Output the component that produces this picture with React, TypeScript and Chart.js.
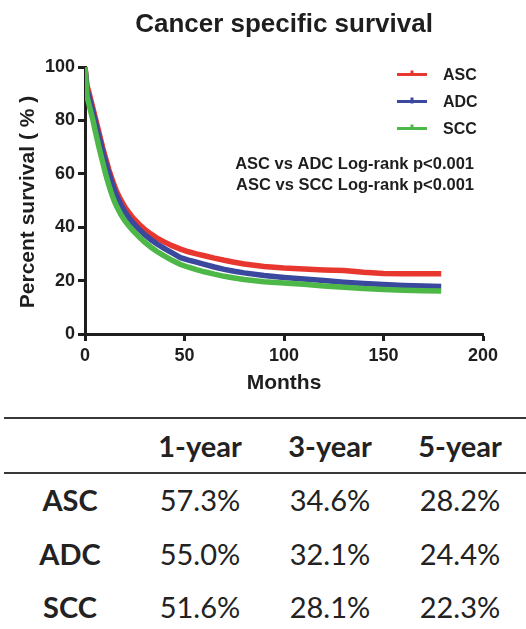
import React, { useEffect, useRef } from "react";
import { Chart, registerables } from "chart.js";

Chart.register(...registerables);

// ---- Data ----
const seriesLabels = ["ASC", "ADC", "SCC"];
const months = [0, 1, 2, 3, 4, 5, 6, 7, 8, 9, 10, 11, 12, 13, 14, 15, 16, 18, 20, 22, 24, 27, 30, 33, 36, 40, 44, 48, 52, 56, 60, 65, 70, 75, 80, 90, 100, 110, 120, 130, 140, 150, 160, 170, 179];
const ascSurvival = [100, 93, 90.5, 87.5, 84.5, 81.5, 78.5, 75.5, 72.5, 69.5, 66.8, 64.2, 61.5, 59.3, 57.1, 55.1, 53.2, 50.2, 47.6, 45.5, 43.6, 41.2, 39.2, 37.5, 36, 34.4, 33, 31.8, 30.8, 30, 29.3, 28.4, 27.6, 26.9, 26.2, 25.3, 24.7, 24.3, 24, 23.8, 23.1, 22.7, 22.6, 22.6, 22.6];
const adcSurvival = [100, 91.5, 89, 86, 83, 80, 77, 74, 71, 68, 65.2, 62.6, 60.2, 57.8, 55.6, 53.5, 51.6, 48.4, 45.8, 43.6, 41.7, 39.3, 37.2, 35.4, 33.8, 32, 30.3, 28.6, 27.7, 26.9, 26.1, 25.1, 24.2, 23.5, 22.9, 21.9, 21.2, 20.6, 20, 19.4, 18.9, 18.5, 18.2, 18, 17.8];
const sccSurvival = [100, 89, 86, 83, 80, 76.5, 73.3, 70, 67, 64, 61, 58.2, 55.7, 53.3, 51.2, 49.3, 47.6, 44.8, 42.4, 40.5, 38.8, 36.5, 34.4, 32.6, 31, 29.2, 27.5, 26, 25, 24.1, 23.3, 22.4, 21.6, 21, 20.4, 19.6, 19.1, 18.6, 18, 17.5, 17, 16.7, 16.4, 16.2, 16.1];
const seriesColors = ["#e8372f", "#3a489e", "#4db748"];

const chartTitle = "Cancer specific survival";
const xAxisTitle = "Months";
const yAxisTitle = "Percent survival ( % )";
const annotations = ["ASC vs ADC Log-rank p<0.001", "ASC vs SCC Log-rank p<0.001"];

const tableColumns = ["1-year", "3-year", "5-year"];
const tableRows = ["ASC", "ADC", "SCC"];
const tableValues = [
  ["57.3%", "34.6%", "28.2%"],
  ["55.0%", "32.1%", "24.4%"],
  ["51.6%", "28.1%", "22.3%"],
];

const TEXT = "#1e1e1e";
const FONT = '"Liberation Sans", Arial, sans-serif';

const overlayPlugin = {
  id: "overlay",
  afterDraw(chart: any) {
    const ctx = chart.ctx;
    const ca = chart.chartArea;
    ctx.save();
    ctx.fillStyle = TEXT;
    ctx.textBaseline = "middle";

    // title
    ctx.font = `bold 26px ${FONT}`;
    ctx.textAlign = "center";
    ctx.fillText(chartTitle, (ca.left + ca.right) / 2, 25);

    // x title
    ctx.font = `bold 21px ${FONT}`;
    ctx.fillText(xAxisTitle, (ca.left + ca.right) / 2, 383);

    // y title
    ctx.save();
    ctx.translate(28, 202);
    ctx.rotate(-Math.PI / 2);
    ctx.font = `bold 21px ${FONT}`;
    ctx.fillText(yAxisTitle, 0, 0);
    ctx.restore();

    // legend
    ctx.font = `bold 16px ${FONT}`;
    ctx.textAlign = "left";
    seriesLabels.forEach((lab, i) => {
      const y = 74.5 + i * 27;
      ctx.strokeStyle = seriesColors[i];
      ctx.lineWidth = 3;
      ctx.beginPath();
      ctx.moveTo(397, y);
      ctx.lineTo(427, y);
      ctx.moveTo(412, y - 4);
      ctx.lineTo(412, y + (i === 1 ? 2 : 0));
      ctx.stroke();
      ctx.fillStyle = TEXT;
      ctx.fillText(lab, 443, y + 1);
    });

    // annotations
    ctx.font = `bold 16.5px ${FONT}`;
    ctx.textAlign = "right";
    annotations.forEach((t, i) => {
      ctx.fillText(t, 474, 164 + i * 21);
    });
    ctx.restore();
  },
};

export default function App() {
  const canvasRef = useRef<HTMLCanvasElement | null>(null);

  useEffect(() => {
    if (!canvasRef.current) return;
    const series = [ascSurvival, adcSurvival, sccSurvival];
    const chart = new Chart(canvasRef.current, {
      type: "line",
      data: {
        datasets: series.map((vals, i) => ({
          label: seriesLabels[i],
          data: months.map((m, j) => ({ x: m, y: vals[j] })),
          borderColor: seriesColors[i],
          backgroundColor: seriesColors[i],
          borderWidth: 5.5,
          pointRadius: 0,
          tension: 0,
          fill: false,
          order: 2 - i,
        })),
      },
      options: {
        animation: false,
        responsive: false,
        devicePixelRatio: 1,
        layout: { padding: { top: 67, right: 43, left: 0, bottom: 0 } },
        plugins: {
          legend: { display: false },
          tooltip: { enabled: false },
          title: { display: false },
        },
        scales: {
          x: {
            type: "linear",
            min: 0,
            max: 200,
            ticks: {
              stepSize: 50,
              color: TEXT,
              padding: 4,
              font: { family: FONT, size: 18, weight: "bold" },
            },
            grid: {
              display: true,
              drawOnChartArea: false,
              drawTicks: true,
              tickLength: 7,
              tickWidth: 3,
              tickColor: TEXT,
            },
            border: { display: true, color: TEXT, width: 3 },
            afterFit: (s: any) => {
              s.height = 66;
            },
          },
          y: {
            type: "linear",
            min: 0,
            max: 100,
            ticks: {
              stepSize: 20,
              color: TEXT,
              padding: 3,
              font: { family: FONT, size: 18, weight: "bold" },
            },
            grid: {
              display: true,
              drawOnChartArea: false,
              drawTicks: true,
              tickLength: 7,
              tickWidth: 3,
              tickColor: TEXT,
            },
            border: { display: true, color: TEXT, width: 3 },
            afterFit: (s: any) => {
              s.width = 85;
            },
          },
        },
      },
      plugins: [overlayPlugin],
    } as any);
    return () => chart.destroy();
  }, []);

  const colX = [200, 330, 460];
  const rowY = [500, 554, 607];
  const cell = (text: string, x: number, y: number, bold: boolean, key: string) => (
    <div
      key={key}
      style={{
        position: "absolute",
        left: x - 80,
        top: y - 15,
        width: 160,
        height: 30,
        lineHeight: "30px",
        textAlign: "center",
        fontFamily: "Lato, sans-serif",
        fontSize: 29,
        fontWeight: bold ? 700 : 400,
        color: "#222",
        whiteSpace: "nowrap",
      }}
    >
      {text}
    </div>
  );

  return (
    <div style={{ position: "absolute", left: 0, top: 0, width: 526, height: 629, background: "#fff", overflow: "hidden" }}>
      <canvas ref={canvasRef} width={526} height={400} style={{ position: "absolute", left: 0, top: 0, width: 526, height: 400 }} />
      <div style={{ position: "absolute", left: 4, top: 417, width: 522, height: 2, background: "#3a3836" }} />
      <div style={{ position: "absolute", left: 4, top: 472, width: 522, height: 2, background: "#3a3836" }} />
      {tableColumns.map((c, i) => cell(c, colX[i], 446, true, "h" + i))}
      {tableRows.map((r, i) => cell(r, 70, rowY[i], true, "r" + i))}
      {tableValues.map((row, i) => row.map((v, j) => cell(v, colX[j], rowY[i], false, `v${i}-${j}`)))}
    </div>
  );
}
